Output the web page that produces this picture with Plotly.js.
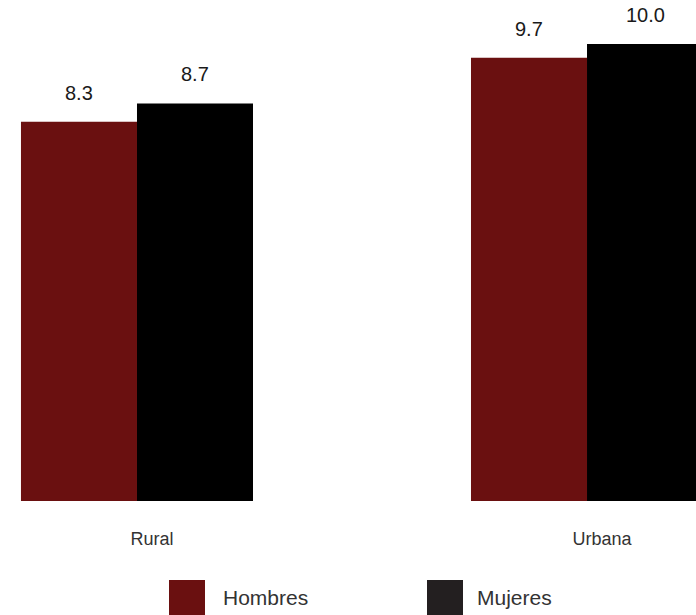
<!DOCTYPE html>
<html>
<head>
<meta charset="utf-8">
<script src="https://cdn.plot.ly/plotly-3.0.1.min.js"></script>
<style>html,body{margin:0;padding:0;background:#fff;}#chart{width:696px;height:615px;}</style>
</head>
<body>
<div id="chart"></div>
<script>
const categories = ["Rural", "Urbana"];
const seriesNames = ["Hombres", "Mujeres"];
const hombres = [8.3, 9.7];
const mujeres = [8.7, 10.0];

const W = 696, H = 615;
const plotBottom = 501; // px
const colors = ["#6A1010", "#000000"];
const legendColors = ["#6A1010", "#231F20"];
const FONT = "Liberation Sans, Arial, sans-serif";

const yMax = 10.965;
const px2py = p => (plotBottom - p) / plotBottom;   // pixel y -> paper y
const px2px = p => p / W;                            // pixel x -> paper x

const traces = [hombres, mujeres].map((vals, i) => ({
  type: "bar",
  name: seriesNames[i],
  x: categories,
  y: vals,
  marker: {color: colors[i], line: {width: 0}},
  hoverinfo: "none",
  showlegend: false
}));

const annotations = [];
[hombres, mujeres].forEach((vals, i) => {
  vals.forEach((v, j) => {
    annotations.push({
      x: categories[j], y: v, xref: "x", yref: "y",
      text: v.toFixed(1), showarrow: false,
      xshift: (i === 0 ? -58 : 58), yshift: 16,
      yanchor: "bottom", xanchor: "center",
      font: {family: FONT, size: 20, color: "#1a1a1a"}
    });
  });
});

// custom large legend
const legX = [169, 427];
const legTextX = [221, 475];
const shapes = [];
seriesNames.forEach((n, i) => {
  shapes.push({
    type: "rect", xref: "paper", yref: "paper",
    x0: px2px(legX[i]), x1: px2px(legX[i] + 36),
    y0: px2py(580), y1: px2py(617),
    fillcolor: legendColors[i], line: {width: 0}
  });
  annotations.push({
    xref: "paper", yref: "paper",
    x: px2px(legTextX[i]), y: px2py(597),
    xanchor: "left", yanchor: "middle",
    text: n, showarrow: false,
    font: {family: FONT, size: 21, color: "#333333"}
  });
});

const layout = {
  width: W, height: H,
  margin: {l: 0, r: 0, t: 0, b: H - plotBottom, pad: 0},
  paper_bgcolor: "#ffffff", plot_bgcolor: "#ffffff",
  barmode: "group", bargap: 0.4844, bargroupgap: 0,
  xaxis: {
    type: "category",
    range: [-0.3044, 1.2422],
    showgrid: false, zeroline: false, showline: false,
    ticks: "", ticklabelshift: 15, ticklabelstandoff: 25,
    tickfont: {family: FONT, size: 18, color: "#333333"},
    fixedrange: true
  },
  yaxis: {
    range: [0, yMax],
    visible: false, showgrid: false, zeroline: false,
    fixedrange: true
  },
  shapes: shapes,
  annotations: annotations,
  showlegend: false
};

Plotly.newPlot("chart", traces, layout, {displayModeBar: false, staticPlot: true});
</script>
</body>
</html>
